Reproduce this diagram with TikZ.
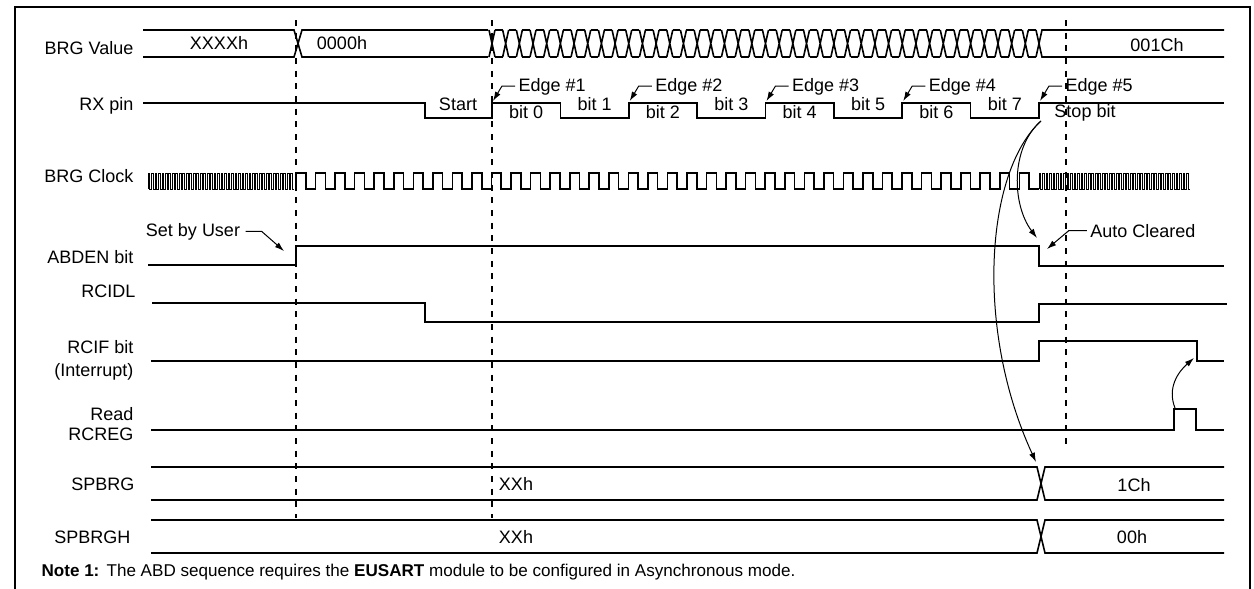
\documentclass[tikz,border=0pt]{standalone}
\usepackage{fontspec}
\setmainfont{Liberation Sans}
\usetikzlibrary{arrows.meta}

\begin{document}
\begin{tikzpicture}[x=0.75pt, y=-0.75pt,
    sig/.style={black, line width=1.2pt},
    fast/.style={black, line width=0.6pt},
    guide/.style={black, line width=1.4pt, dash pattern=on 4.5pt off 5pt},
    lbl/.style={font=\fontsize{13.5}{15}\selectfont, inner sep=1pt},
    ptr/.style={black, line width=0.75pt, -{Latex[length=7pt, width=4.5pt]}}]
  \useasboundingbox (0,0) rectangle (1254,589);
  \def\xe{1039} \def\xr{1224} \def\bw{68.375}

  % frame
  \draw[black, line width=1.5pt] (15,589) -- (15,7) -- (1250,7) -- (1250,589);

  % guides
  \draw[guide] (296,20) -- (296,518);
  \draw[guide] (492,20) -- (492,518);
  \draw[guide] (1066,20) -- (1066,450);

  % row names
  \node[lbl, anchor=base east] (lBrg) at (135,55) {BRG Value};
  \node[lbl, anchor=base east] (lRx) at (135,110) {RX pin};
  \node[lbl, anchor=base east] (lClk) at (135,182) {BRG Clock};
  \node[lbl, anchor=base east] (lAbden) at (135,263) {ABDEN bit};
  \node[lbl, anchor=base east] (lRcidl) at (137,297) {RCIDL};
  \node[lbl, anchor=base east] (lRcif) at (135,353) {RCIF bit};
  \node[lbl, anchor=base east] (lInt) at (135,376) {(Interrupt)};
  \node[lbl, anchor=base east] (lRead) at (135,420) {Read};
  \node[lbl, anchor=base east] (lRcreg) at (135,440) {RCREG};
  \node[lbl, anchor=base east] (lSpbrg) at (136,490) {SPBRG};
  \node[lbl, anchor=base east] (lSpbrgh) at (132,543) {SPBRGH};

  % BRG Value: 30..57
  \draw[sig] (143,30) -- (294,30) -- (302,57) -- (488,57);
  \draw[sig] (143,57) -- (294,57) -- (302,30) -- (488,30);
  \foreach \i in {0,...,39} {
    \pgfmathsetmacro{\cx}{492+\i*13.675}
    \draw[sig] (\cx-3,30) -- (\cx+3,57) (\cx-3,57) -- (\cx+3,30);
    \draw[sig] (\cx+3,30) -- (\cx+10.675,30) (\cx+3,57) -- (\cx+10.675,57);
  }
  \draw[sig] (\xe-3,30) -- (\xe+3,57) -- (\xr,57);
  \draw[sig] (\xe-3,57) -- (\xe+3,30) -- (\xr,30);
  \node[lbl, anchor=base] (vOld) at (219,50) {XXXXh};
  \node[lbl, anchor=base] (vZero) at (342,50) {0000h};
  \node[lbl, anchor=base] (vNew) at (1157,51) {001Ch};

  % RX pin: high 103, low 118
  \draw[sig] (143,103) -- (425,103) -- (425,118) -- (492,118)
    \foreach \k in {0,...,3} { -- ++(0,-15) -- ++(\bw,0) -- ++(0,15) -- ++(\bw,0) }
    -- ++(0,-15) -- (\xr,103);
  \node[lbl, anchor=base] (start) at (458,110) {Start};
  \foreach \k in {0,...,7} {
    \pgfmathsetmacro{\bx}{492+(\k+0.5)*\bw}
    \pgfmathsetmacro{\by}{mod(\k,2)==0 ? 118 : 110}
    \node[lbl, anchor=base] (bit\k) at (\bx,\by) {bit \k};
  }
  \node[lbl, anchor=base] (stop) at (1085,117) {Stop bit};
  \foreach \k in {1,...,5} {
    \pgfmathsetmacro{\ex}{492+(\k-1)*2*\bw}
    \coordinate (edge\k) at (\ex+1,101);
    \node[lbl, anchor=base west] (edgeL\k) at (\ex+25,91) {Edge \#\k};
    \draw[ptr] (\ex+23,86) -- (\ex+10,86) -- (edge\k);
  }

  % BRG Clock: high 173, low 189
  \draw[fast] (148,189) \foreach \k in {0,...,41} { -- ++(0,-16) -- ++(1.74,0) -- ++(0,16) -- ++(1.74,0) };
  \draw[sig] (296,189) \foreach \k in {0,...,37} { -- ++(0,-16) -- ++(9.775,0) -- ++(0,16) -- ++(9.775,0) };
  \draw[fast] (\xe,189) \foreach \k in {0,...,42} { -- ++(0,-16) -- ++(1.755,0) -- ++(0,16) -- ++(1.755,0) };

  % ABDEN bit
  \draw[sig] (148,265) -- (296,265) -- (296,246) -- (\xe,246) -- (\xe,266) -- (\xr,266);
  \node[lbl, anchor=base] (setUser) at (193,236) {Set by User};
  \coordinate (abdenRise) at (284,251);
  \draw[ptr] (setUser.east) ++(4,0) -- ++(16,0) -- (abdenRise);
  \node[lbl, anchor=base] (autoClr) at (1143,237) {Auto Cleared};
  \coordinate (autoTip) at (1047,249);
  \draw[ptr] (autoClr.west) ++(-2,0) -- ++(-18,0) -- (autoTip);

  % RCIDL
  \draw[sig] (152,303) -- (425,303) -- (425,322) -- (\xe,322) -- (\xe,304) -- (1227,304);

  % RCIF bit
  \draw[sig] (151,361) -- (\xe,361) -- (\xe,341) -- (1197,341) -- (1197,361) -- (\xr,361);

  % Read RCREG
  \draw[sig] (151,430) -- (1174,430) -- (1174,409) -- (1196,409) -- (1196,430) -- (\xr,430);
  \coordinate (rdTop) at (1175,408);
  \coordinate (rcifFall) at (1194,358);
  \draw[ptr] (rdTop) .. controls (1167,388) and (1178,372) .. (rcifFall);

  % SPBRG: 467..500
  \draw[sig] (151,467) -- (1037,467) -- (1045,500) -- (\xr,500);
  \draw[sig] (151,500) -- (1037,500) -- (1045,467) -- (\xr,467);
  \node[lbl, anchor=base] (spOld) at (516,490) {XXh};
  \node[lbl, anchor=base] (spNew) at (1134,491) {1Ch};

  % SPBRGH: 520..553
  \draw[sig] (151,520) -- (1037,520) -- (1045,553) -- (\xr,553);
  \draw[sig] (151,553) -- (1037,553) -- (1045,520) -- (\xr,520);
  \node[lbl, anchor=base] (shOld) at (516,543) {XXh};
  \node[lbl, anchor=base] (shNew) at (1132,543) {00h};

  % Stop bit arrows
  \coordinate (stopSrc) at (1041,121);
  \coordinate (abdenFall) at (1037,238);
  \coordinate (spbrgX) at (1036,462);
  \draw[ptr] (stopSrc) .. controls (1010,148) and (1012,205) .. (abdenFall);
  \draw[ptr] (stopSrc) .. controls (985,172) and (975,330) .. (spbrgX);

  % note
  \node[lbl, font=\fontsize{12.8}{14}\selectfont, anchor=base west] (noteHd) at (40,576) {\textbf{Note 1:}};
  \node[lbl, font=\fontsize{12.8}{14}\selectfont, anchor=base west] (noteTx) at (105,576) {The ABD sequence requires the \textbf{EUSART} module to be configured in Asynchronous mode.};
\end{tikzpicture}
\end{document}
